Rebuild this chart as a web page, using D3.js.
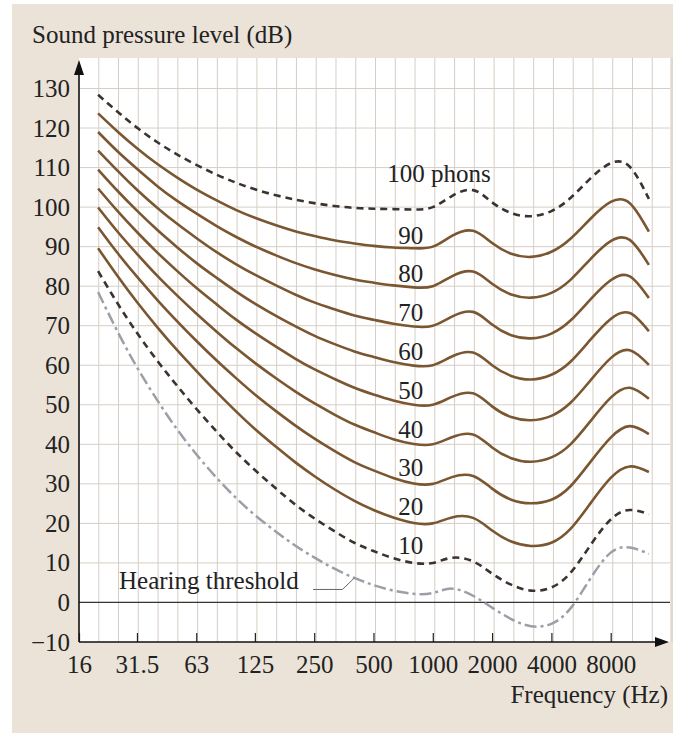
<!DOCTYPE html>
<html>
<head>
<meta charset="utf-8">
<script src="https://cdn.jsdelivr.net/npm/d3@7/dist/d3.min.js"></script>
<style>
  body { margin: 0; background: #fff; }
  text { font-family: "Liberation Serif", "Times New Roman", serif; fill: #222; }
</style>
</head>
<body>
<div id="chart"></div>
<script>
// DATA - equal-loudness contours, values in dB
const freqs = [20, 25, 31.5, 40, 50, 63, 80, 100, 125, 160, 200, 250, 315, 400, 500, 630, 800,
  1000, 1250, 1600, 2000, 2500, 3150, 4000, 5000, 6300, 8000, 10000, 12500];

const phon10 = [83.8, 75.8, 68.2, 61.1, 55.0, 49.0, 43.2, 38.1, 33.5, 28.8, 24.8, 21.3, 18.1, 15.1, 13.0, 11.2, 10.0,
  10.0, 11.3, 10.4, 7.3, 4.5, 3.0, 3.8, 7.5, 14.4, 21.0, 23.4, 22.3];
const phon20 = [89.6, 82.7, 76.0, 69.6, 64.0, 58.6, 53.2, 48.4, 43.9, 39.4, 35.5, 32.0, 28.7, 25.7, 23.4, 21.5, 20.1,
  20.0, 21.5, 21.4, 18.2, 15.4, 14.3, 15.1, 18.6, 25.0, 31.5, 34.4, 33.0];
const phon30 = [94.9, 88.5, 82.4, 76.5, 71.3, 66.2, 61.2, 56.8, 52.6, 48.4, 44.8, 41.5, 38.4, 35.5, 33.4, 31.5, 30.1,
  30.0, 31.7, 32.0, 28.8, 26.0, 25.1, 26.0, 29.4, 35.5, 41.7, 44.6, 42.6];
const phon40 = [99.9, 93.9, 88.2, 82.6, 77.8, 73.1, 68.5, 64.4, 60.6, 56.7, 53.4, 50.4, 47.6, 45.0, 43.1, 41.3, 40.1,
  40.0, 41.8, 42.5, 39.2, 36.5, 35.6, 36.7, 40.0, 45.8, 51.8, 54.3, 51.5];
const phon50 = [104.7, 99.1, 93.7, 88.5, 84.0, 79.6, 75.4, 71.6, 68.2, 64.7, 61.7, 59.0, 56.6, 54.3, 52.6, 51.1, 50.0,
  50.0, 52.0, 52.9, 49.6, 46.9, 46.1, 47.2, 50.5, 56.1, 61.8, 63.8, 60.1];
const phon60 = [109.5, 104.2, 99.1, 94.2, 90.0, 85.9, 82.1, 78.7, 75.6, 72.5, 69.9, 67.5, 65.4, 63.5, 62.1, 60.8, 59.9,
  60.0, 62.2, 63.2, 60.0, 57.3, 56.4, 57.6, 60.9, 66.4, 71.7, 73.2, 68.6];
const phon70 = [114.3, 109.3, 104.4, 99.8, 95.9, 92.2, 88.6, 85.6, 82.9, 80.2, 77.9, 75.9, 74.2, 72.6, 71.5, 70.5, 69.8,
  70.0, 72.3, 73.5, 70.3, 67.6, 66.8, 68.0, 71.3, 76.6, 81.5, 82.5, 77.0];
const phon80 = [119.0, 114.2, 109.7, 105.3, 101.7, 98.4, 95.2, 92.5, 90.1, 87.8, 85.9, 84.3, 82.9, 81.7, 80.9, 80.2, 79.7,
  80.0, 82.5, 83.7, 80.6, 77.9, 77.1, 78.3, 81.6, 86.8, 91.4, 91.7, 85.4];
const phon90 = [123.7, 119.2, 114.9, 110.9, 107.6, 104.5, 101.7, 99.3, 97.3, 95.4, 93.9, 92.7, 91.6, 90.8, 90.2, 89.8, 89.6,
  90.0, 92.7, 94.0, 90.9, 88.2, 87.4, 88.7, 92.0, 97.0, 101.3, 101.0, 93.8];
const phon100 = [128.4, 124.2, 120.1, 116.4, 113.4, 110.7, 108.2, 106.2, 104.5, 103.0, 101.9, 101.0, 100.3, 99.8, 99.6, 99.5, 99.4,
  100.0, 102.8, 104.3, 101.2, 98.5, 97.7, 99.0, 102.3, 107.2, 111.1, 110.2, 102.1];
const threshold = [78.5, 68.7, 59.5, 51.1, 44.0, 37.5, 31.5, 26.5, 22.1, 17.9, 14.4, 11.4, 8.6, 6.2, 4.4, 3.0, 2.2,
  2.4, 3.5, 1.7, -1.3, -4.2, -6.0, -5.4, -1.5, 6.0, 12.6, 13.9, 12.3];

const phons = [10, 20, 30, 40, 50, 60, 70, 80, 90, 100];
const phonSeries = [phon10, phon20, phon30, phon40, phon50, phon60, phon70, phon80, phon90, phon100];

const freqTicks = [16, 31.5, 63, 125, 250, 500, 1000, 2000, 4000, 8000];
const levelTicks = [-10, 0, 10, 20, 30, 40, 50, 60, 70, 80, 90, 100, 110, 120, 130];

class LoudnessChart {
  width = 677;
  height = 733;
  plot = {left: 79, right: 670, top: 58, bottom: 642};

  init() {
    this.svg = d3.select('#chart').append('svg')
      .attr('width', this.width)
      .attr('height', this.height);

    // background card + white plot area
    this.svg.append('rect')
      .attr('x', 12).attr('y', 4)
      .attr('width', 661).attr('height', 729)
      .attr('fill', '#ebe3d8');
    this.svg.append('rect')
      .attr('x', this.plot.left).attr('y', this.plot.top)
      .attr('width', this.plot.right - this.plot.left)
      .attr('height', this.plot.bottom - this.plot.top)
      .attr('fill', '#fff');

    // SCALES
    this.xScale = d3.scaleLog().base(2)
      .domain([16, 16000])
      .range([this.plot.left, this.plot.right]);
    this.yScale = d3.scaleLinear()
      .domain([-10, 130])
      .range([this.plot.bottom, 88.5]);
  }

  drawGrid() {
    let p = this.plot;
    // third-octave vertical grid
    let thirds = d3.range(1, 31).map(i => 16 * Math.pow(2, i / 3));
    this.svg.append('g').selectAll('line')
      .data(thirds)
      .enter().append('line')
      .attr('x1', d => this.xScale(d)).attr('x2', d => this.xScale(d))
      .attr('y1', p.top).attr('y2', p.bottom)
      .attr('stroke', '#d6cec5').attr('stroke-width', 1);

    this.svg.append('g').selectAll('line')
      .data(levelTicks.filter(d => d > 0))
      .enter().append('line')
      .attr('x1', p.left).attr('x2', p.right)
      .attr('y1', d => this.yScale(d)).attr('y2', d => this.yScale(d))
      .attr('stroke', '#d6cec5').attr('stroke-width', 1);

    // 0 dB reference line
    this.svg.append('line')
      .attr('x1', p.left).attr('x2', p.right)
      .attr('y1', this.yScale(0)).attr('y2', this.yScale(0))
      .attr('stroke', '#333').attr('stroke-width', 1.2);
  }

  drawCurves() {
    let line = d3.line()
      .x((d, i) => this.xScale(freqs[i]))
      .y(d => this.yScale(d))
      .curve(d3.curveNatural);

    let data = phonSeries.map((values, i) => ({phon: phons[i], values: values}));

    this.svg.append('g').selectAll('path')
      .data(data)
      .enter().append('path')
      .attr('d', d => line(d.values))
      .attr('fill', 'none')
      .attr('stroke', d => (d.phon === 10 || d.phon === 100) ? '#3b3330' : '#7a5631')
      .attr('stroke-width', 2.6)
      .attr('stroke-dasharray', d => (d.phon === 10 || d.phon === 100) ? '7,5' : null);

    this.svg.append('path')
      .attr('d', line(threshold))
      .attr('fill', 'none')
      .attr('stroke', '#9c9fa8')
      .attr('stroke-width', 2.5)
      .attr('stroke-dasharray', '12,4,3,4');

    // contour labels
    let labelX = this.xScale(630) + 5;
    this.svg.append('g').selectAll('text')
      .data(phons.filter(d => d < 100))
      .enter().append('text')
      .attr('x', labelX)
      .attr('y', d => this.yScale(d) - 3 - (90 - d) * 0.075)
      .style('font-size', '25px')
      .text(d => d);

    this.svg.append('text')
      .attr('x', labelX - 11)
      .attr('y', this.yScale(100) - 25)
      .style('font-size', '25px')
      .text('100 phons');

    // hearing threshold label with leader
    let ty = this.yScale(0) - 13;
    this.svg.append('text')
      .attr('x', 119).attr('y', ty)
      .style('font-size', '25px')
      .text('Hearing threshold');
    let tip = [this.xScale(400), this.yScale(6.2)];
    this.svg.append('path')
      .attr('d', d3.line()([[313, ty], [tip[0] - 12, ty], tip]))
      .attr('fill', 'none')
      .attr('stroke', '#666')
      .attr('stroke-width', 1);
  }

  drawAxes() {
    let p = this.plot;

    // AXES
    let xAxis = d3.axisBottom(this.xScale)
      .tickValues(freqTicks)
      .tickFormat(d => d)
      .tickSizeInner(-9)
      .tickSizeOuter(0)
      .tickPadding(13);
    let yAxis = d3.axisLeft(this.yScale)
      .tickValues(levelTicks)
      .tickFormat(d => d < 0 ? '\u2212' + Math.abs(d) : d)
      .tickSize(0)
      .tickPadding(9);

    let gx = this.svg.append('g')
      .attr('transform', 'translate(0,' + p.bottom + ')')
      .call(xAxis);
    gx.select('.domain').remove();
    gx.selectAll('line').attr('stroke', '#222').attr('stroke-width', 1.2);
    gx.selectAll('text').style('font-size', '25px').attr('fill', '#222');

    let gy = this.svg.append('g')
      .attr('transform', 'translate(' + p.left + ',0)')
      .call(yAxis);
    gy.select('.domain').remove();
    gy.selectAll('text').style('font-size', '25px').attr('fill', '#222');

    // axis lines with arrow heads
    this.svg.append('line')
      .attr('x1', p.left).attr('x2', p.right - 10)
      .attr('y1', p.bottom).attr('y2', p.bottom)
      .attr('stroke', '#111').attr('stroke-width', 1.6);
    this.svg.append('line')
      .attr('x1', p.left).attr('x2', p.left)
      .attr('y1', p.bottom).attr('y2', 70)
      .attr('stroke', '#111').attr('stroke-width', 1.6);
    this.svg.append('path')
      .attr('d', 'M' + (p.right - 1) + ',' + p.bottom + 'L' + (p.right - 15) + ',' + (p.bottom - 5) +
        'L' + (p.right - 15) + ',' + (p.bottom + 5) + 'Z')
      .attr('fill', '#111');
    this.svg.append('path')
      .attr('d', 'M' + p.left + ',60L' + (p.left - 5) + ',75L' + (p.left + 5) + ',75Z')
      .attr('fill', '#111');

    // titles
    this.svg.append('text')
      .attr('x', 32).attr('y', 43)
      .style('font-size', '25px')
      .text('Sound pressure level (dB)');
    this.svg.append('text')
      .attr('x', 668).attr('y', 703)
      .attr('text-anchor', 'end')
      .style('font-size', '25px')
      .text('Frequency (Hz)');
  }
}

let chart = new LoudnessChart();
chart.init();
chart.drawGrid();
chart.drawCurves();
chart.drawAxes();
</script>
</body>
</html>
